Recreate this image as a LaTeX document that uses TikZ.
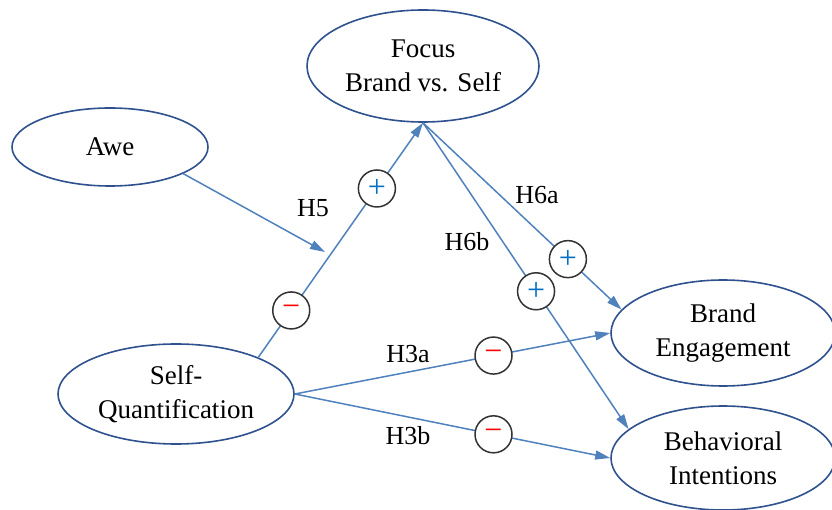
\documentclass[tikz,border=0pt]{standalone}
\usepackage{fontspec}
\setmainfont{Liberation Serif}
\usetikzlibrary{shapes.geometric,arrows.meta}
\definecolor{edgeblue}{RGB}{79,129,189}
\definecolor{navy}{RGB}{47,82,143}
\definecolor{plusblue}{RGB}{0,112,192}
\definecolor{minusred}{RGB}{255,0,0}
\begin{document}
\begin{tikzpicture}[x=1pt,y=-1pt,
 construct/.style={ellipse, draw=navy, line width=1.6pt, fill=white, inner sep=0pt, align=center, font=\fontsize{27}{34}\selectfont},
 link/.style={draw=edgeblue, line width=1.5pt, -{Triangle[length=15pt,width=9pt]}},
 sgn/.style={circle, draw=black!80, line width=1.5pt, fill=white, minimum size=37pt, inner sep=0pt, font=\fontsize{32}{32}\selectfont},
 hyp/.style={font=\fontsize{26}{26}\selectfont, inner sep=0pt}
]
\useasboundingbox (0,0) rectangle (832,510);

\node[construct, minimum width=232pt, minimum height=112pt] (focus) at (423,66) {Focus\\Brand vs. Self};
\node[construct, minimum width=196pt, minimum height=78pt] (awe) at (110,147) {Awe};
\node[construct, minimum width=236pt, minimum height=100pt] (sq) at (176,394) {Self-\\Quantification};
\node[construct, minimum width=224pt, minimum height=106pt] (be) at (723,333) {Brand\\Engagement};
\node[construct, minimum width=224pt, minimum height=104pt] (bi) at (723,458) {Behavioral\\Intentions};

\coordinate (j) at (325,252);

\draw[link] (sq.24) -- node[sgn,pos=0.2]{\color{minusred}−} node[sgn,pos=0.72]{\color{plusblue}+} (focus.south);
\draw[link] (awe.-20) -- (j);
\draw[link] (focus.south) -- node[sgn,pos=0.73]{\color{plusblue}+} (be.167);
\draw[link] (focus.south) -- node[sgn,pos=0.55]{\color{plusblue}+} (bi.163);
\draw[link] (sq.east) -- node[sgn,pos=0.63]{\color{minusred}−} (be.west);
\draw[link] (sq.east) -- node[sgn,pos=0.63]{\color{minusred}−} (bi.west);

\node[hyp] (h5) at (313,208) {H5};
\node[hyp] (h6a) at (537,195) {H6a};
\node[hyp] (h6b) at (467,242) {H6b};
\node[hyp] (h3a) at (408,354) {H3a};
\node[hyp] (h3b) at (408,436) {H3b};
\end{tikzpicture}
\end{document}
